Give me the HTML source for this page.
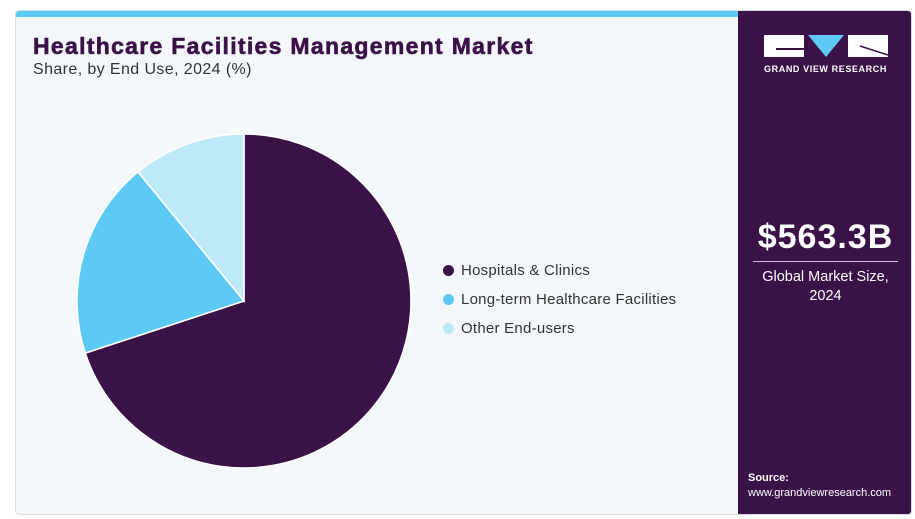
<!DOCTYPE html>
<html><head><meta charset="utf-8"><style>
body{margin:0;width:915px;height:519px;background:#fff;position:relative;overflow:hidden;font-family:"Liberation Sans",Arial,sans-serif}
.card{position:absolute;left:15px;top:10px;width:897px;height:505px;background:#f4f8fb;border:1px solid #d6dbe0;border-radius:4px;box-sizing:border-box;overflow:hidden}
.bar{position:absolute;left:0;top:0;width:722px;height:6px;background:#5ccaf5}
.side{position:absolute;left:722px;top:0;right:0;bottom:0;background:#3a1248;color:#fff}
h1{position:absolute;left:17px;top:22px;margin:0;font-size:23px;font-weight:900;color:#3a1248;letter-spacing:1.3px;-webkit-text-stroke:0.6px #3a1248}
.sub{position:absolute;left:17px;top:50px;font-size:16px;color:#333;letter-spacing:0.4px}
.leg{position:absolute;left:427px;font-size:15px;color:#333;letter-spacing:0.25px}
.leg i{display:inline-block;width:11px;height:11px;border-radius:50%;margin-right:7px;vertical-align:-1px}
</style></head><body>
<div class="card">
<div class="bar"></div>
<h1>Healthcare Facilities Management Market</h1>
<div class="sub">Share, by End Use, 2024 (%)</div>
<svg style="position:absolute;left:-15px;top:-10px" width="740" height="519">
<path d="M243,300 L243,133 A167,167 0 1 1 84.3,352.1 Z" fill="#3a1248" stroke="#fff" stroke-width="1.5"/>
<path d="M243,300 L84.3,352.1 A167,167 0 0 1 137,170.9 Z" fill="#5ccaf5" stroke="#fff" stroke-width="1.5"/>
<path d="M243,300 L137,170.9 A167,167 0 0 1 243,133 Z" fill="#bde9fa" stroke="#fff" stroke-width="1.5"/>
</svg>
<div class="leg" style="top:251px"><i style="background:#3a1248"></i>Hospitals &amp; Clinics</div>
<div class="leg" style="top:280px"><i style="background:#5ccaf5"></i>Long-term Healthcare Facilities</div>
<div class="leg" style="top:309px"><i style="background:#bde9fa"></i>Other End-users</div>
<div class="side">
<svg style="position:absolute;left:26px;top:24px" width="124" height="24">
<path d="M0,0H40V22H0Z" fill="#fff"/>
<rect x="12" y="13" width="28" height="2" fill="#3a1248"/>
<polygon points="44,0 80,0 62,22" fill="#5ccaf5"/>
<rect x="84" y="0" width="40" height="22" fill="#fff"/>
<line x1="96" y1="11" x2="124" y2="20" stroke="#3a1248" stroke-width="1.5"/>
</svg>
<div style="position:absolute;left:0;width:175px;top:53px;text-align:center;font-size:9px;font-weight:bold;letter-spacing:0.6px">GRAND VIEW RESEARCH</div>
<div style="position:absolute;left:0;width:175px;top:207px;text-align:center;font-size:34px;font-weight:bold;letter-spacing:1px">$563.3B</div>
<div style="position:absolute;left:15px;width:145px;top:250px;height:1px;background:#c9bccf"></div>
<div style="position:absolute;left:0;width:175px;top:257px;text-align:center;font-size:14.5px;line-height:19px">Global Market Size,<br>2024</div>
<div style="position:absolute;left:10px;top:461px;font-size:11px;font-weight:bold">Source:</div>
<div style="position:absolute;left:10px;top:476px;font-size:11px">www.grandviewresearch.com</div>
</div>
</div>
</body></html>
